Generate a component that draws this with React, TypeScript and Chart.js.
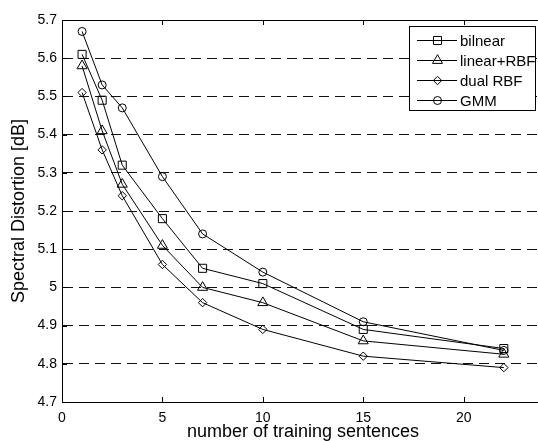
import React, { useEffect, useRef } from 'react';
import { Chart, registerables } from 'chart.js';

Chart.register(...registerables);

const sentences = [1, 2, 3, 5, 7, 10, 15, 22];
const bilinear = [5.61, 5.49, 5.32, 5.18, 5.05, 5.01, 4.89, 4.84];
const linearRBF = [5.58, 5.41, 5.27, 5.11, 5.0, 4.96, 4.86, 4.825];
const dualRBF = [5.51, 5.36, 5.24, 5.06, 4.96, 4.89, 4.82, 4.79];
const gmm = [5.67, 5.53, 5.47, 5.29, 5.14, 5.04, 4.91, 4.835];
const seriesNames = ['bilnear', 'linear+RBF', 'dual RBF', 'GMM'];
const xTickValues = [0, 5, 10, 15, 20];
const yTickValues = [4.7, 4.8, 4.9, 5.0, 5.1, 5.2, 5.3, 5.4, 5.5, 5.6, 5.7];

const FONT = '"Liberation Sans", Arial, sans-serif';

type Marker = 'rect' | 'triangle' | 'rectRot' | 'circle';
const markers: Marker[] = ['rect', 'triangle', 'rectRot', 'circle'];
const markerRadius = [5.7, 5.8, 4.2, 4];

function drawMarker(ctx: CanvasRenderingContext2D, m: Marker, x: number, y: number, r: number) {
  ctx.beginPath();
  if (m === 'rect') {
    const s = r * Math.SQRT1_2;
    ctx.rect(x - s, y - s, 2 * s, 2 * s);
  } else if (m === 'triangle') {
    ctx.moveTo(x, y - r);
    ctx.lineTo(x + r * Math.sin(Math.PI / 3), y + r / 2);
    ctx.lineTo(x - r * Math.sin(Math.PI / 3), y + r / 2);
    ctx.closePath();
  } else if (m === 'rectRot') {
    ctx.moveTo(x - r, y);
    ctx.lineTo(x, y - r);
    ctx.lineTo(x + r, y);
    ctx.lineTo(x, y + r);
    ctx.closePath();
  } else {
    ctx.arc(x, y, r, 0, Math.PI * 2);
  }
  ctx.stroke();
}

const framePlugin = {
  id: 'frame',
  afterDraw(chart: any) {
    const { ctx, chartArea } = chart;
    const { left, right, top, bottom } = chartArea;
    const xs = chart.scales.x;
    const ys = chart.scales.y;
    ctx.save();
    ctx.strokeStyle = '#000';
    ctx.lineWidth = 1;
    ctx.setLineDash([]);
    ctx.beginPath();
    ctx.moveTo(left, Math.round(top) + 0.5);
    ctx.lineTo(right, Math.round(top) + 0.5);
    ctx.moveTo(Math.round(right) + 0.5, top);
    ctx.lineTo(Math.round(right) + 0.5, bottom);
    for (const v of xTickValues) {
      const px = Math.round(xs.getPixelForValue(v)) + 0.5;
      ctx.moveTo(px, bottom);
      ctx.lineTo(px, bottom - 5);
      ctx.moveTo(px, top);
      ctx.lineTo(px, top + 5);
    }
    for (const v of yTickValues) {
      const py = Math.round(ys.getPixelForValue(v)) + 0.5;
      ctx.moveTo(left, py);
      ctx.lineTo(left + 5, py);
      ctx.moveTo(right, py);
      ctx.lineTo(right - 5, py);
    }
    ctx.stroke();

    // legend
    const bx = 409.5, by = 26.5, bw = 126, bh = 84;
    ctx.fillStyle = '#fff';
    ctx.fillRect(bx, by, bw, bh);
    ctx.strokeRect(bx, by, bw, bh);
    ctx.font = '15px ' + FONT;
    ctx.textBaseline = 'middle';
    ctx.textAlign = 'left';
    seriesNames.forEach((name, i) => {
      const yy = 40.5 + i * 20;
      ctx.beginPath();
      ctx.moveTo(417, yy);
      ctx.lineTo(457, yy);
      ctx.stroke();
      drawMarker(ctx, markers[i], 437.5, yy, markerRadius[i]);
      ctx.fillStyle = '#000';
      ctx.fillText(name, 460, yy + 1);
    });
    ctx.restore();
  },
};

export default function App() {
  const ref = useRef<HTMLCanvasElement>(null);
  useEffect(() => {
    const seriesValues = [bilinear, linearRBF, dualRBF, gmm];
    const chart = new Chart(ref.current as HTMLCanvasElement, {
      type: 'line',
      data: {
        datasets: seriesValues.map((vals, i) => ({
          label: seriesNames[i],
          data: sentences.map((s, j) => ({ x: s, y: vals[j] })),
          borderColor: '#000',
          borderWidth: 1,
          backgroundColor: 'rgba(0,0,0,0)',
          pointBackgroundColor: 'rgba(0,0,0,0)',
          pointBorderColor: '#000',
          pointBorderWidth: 1,
          pointStyle: markers[i],
          pointRadius: markerRadius[i],
          tension: 0,
          fill: false,
        })),
      },
      options: {
        responsive: false,
        animation: false,
        devicePixelRatio: 1,
        layout: { padding: { left: 0, top: 20, right: 16, bottom: 0 } },
        plugins: { legend: { display: false }, tooltip: { enabled: false } },
        scales: {
          x: {
            type: 'linear',
            min: 0,
            max: 24,
            afterBuildTicks: (scale: any) => {
              scale.ticks = xTickValues.map((v) => ({ value: v }));
            },
            afterFit: (scale: any) => {
              scale.height = 39;
            },
            ticks: {
              color: '#000',
              font: { family: FONT, size: 14 },
              padding: 8,
              maxRotation: 0,
              autoSkip: false,
              callback: (v: any) => String(v),
            },
            grid: { drawOnChartArea: false, drawTicks: false },
            border: { display: true, color: '#000', width: 1 },
            title: {
              display: true,
              text: 'number of training sentences',
              color: '#000',
              font: { family: FONT, size: 18 },
              padding: { top: 0, bottom: -2 },
            },
          },
          y: {
            type: 'linear',
            min: 4.7,
            max: 5.7,
            afterBuildTicks: (scale: any) => {
              scale.ticks = yTickValues.map((v) => ({ value: v }));
            },
            afterFit: (scale: any) => {
              scale.width = 62;
            },
            ticks: {
              color: '#000',
              font: { family: FONT, size: 14 },
              padding: 5,
              autoSkip: false,
              callback: (v: any) => String(Math.round(Number(v) * 10) / 10),
            },
            grid: { color: '#111', lineWidth: 1, drawTicks: false },
            border: { display: true, color: '#000', width: 1, dash: [10, 6] },
            title: {
              display: true,
              text: 'Spectral Distortion [dB]',
              color: '#000',
              font: { family: FONT, size: 18 },
              padding: { top: 8, bottom: 0 },
            },
          },
        },
      },
      plugins: [framePlugin],
    } as any);
    return () => chart.destroy();
  }, []);
  return (
    <div
      style={{
        position: 'fixed',
        left: 0,
        top: 0,
        width: 538,
        height: 441,
        overflow: 'hidden',
        background: '#fff',
      }}
    >
      <canvas ref={ref} width={560} height={441} style={{ display: 'block', width: 560, height: 441 }} />
    </div>
  );
}
